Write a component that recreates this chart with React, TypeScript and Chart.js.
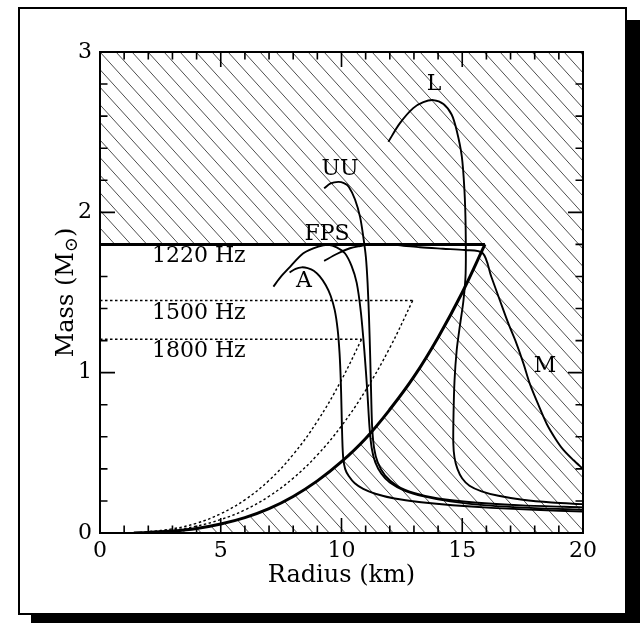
import React, { useEffect, useRef } from "react";
import { Chart, registerables } from "chart.js";

Chart.register(...registerables);

type Pt = [number, number];
const FONT = "'DejaVu Serif', 'Liberation Serif', serif";

// ---- axes ----
const xRange: Pt = [0, 20];
const yRange: Pt = [0, 3];
const xMajorTicks = [0, 5, 10, 15, 20];
const xMinorTicks = [1, 2, 3, 4, 6, 7, 8, 9, 11, 12, 13, 14, 16, 17, 18, 19];
const yMajorTicks = [0, 1, 2, 3];
const yMinorTicks = [0.2, 0.4, 0.6, 0.8, 1.2, 1.4, 1.6, 1.8, 2.2, 2.4, 2.6, 2.8];
const xTitle = "Radius (km)";
const yTitleMain = "Mass (M";
const yTitleSub = "\u2299";
const yTitleEnd = ")";

// ---- spin-frequency limits (radius km, mass Msun) ----
const hz1220Line: Pt[] = [[0, 1.8], [15.94, 1.8]];
const hz1220Curve: Pt[] = [
  [15.94, 1.8], [15, 1.5], [14, 1.22], [13, 0.975], [12, 0.77], [11, 0.59],
  [10, 0.445], [9, 0.325], [8, 0.228], [7, 0.152], [6, 0.096], [5, 0.056],
  [4, 0.028], [3, 0.012], [2, 0.0035], [1.4, 0],
];
const hz1500Line: Pt[] = [[0, 1.45], [12.95, 1.45]];
const hz1500Curve: Pt[] = [
  [12.95, 1.45], [12, 1.155], [11, 0.89], [10, 0.668], [9, 0.487], [8, 0.342],
  [7, 0.229], [6, 0.144], [5, 0.084], [4, 0.043], [3, 0.018], [2, 0.005], [1.4, 0],
];
const hz1800Line: Pt[] = [[0, 1.208], [10.83, 1.208]];
const hz1800Curve: Pt[] = [
  [10.83, 1.208], [10, 0.955], [9, 0.697], [8, 0.49], [7, 0.328], [6, 0.207],
  [5, 0.12], [4, 0.061], [3, 0.026], [2, 0.008], [1.4, 0],
];

// ---- equations of state ----
const eosA: Pt[] = [
  [7.85, 1.625], [8.1, 1.648], [8.35, 1.657], [8.6, 1.652], [8.85, 1.636], [9.1, 1.6],
  [9.35, 1.545], [9.55, 1.48], [9.72, 1.39], [9.84, 1.27], [9.92, 1.12], [9.97, 0.95],
  [10.0, 0.78], [10.03, 0.6], [10.07, 0.47], [10.15, 0.4], [10.3, 0.355], [10.55, 0.31],
  [10.9, 0.275], [11.4, 0.245], [12.2, 0.215], [13.3, 0.192], [14.6, 0.173],
  [16.2, 0.157], [18, 0.145], [20, 0.133],
];
const eosFPS: Pt[] = [
  [7.18, 1.537], [7.5, 1.6], [7.87, 1.66], [8.42, 1.745], [9.04, 1.786], [9.45, 1.797],
  [9.8, 1.782], [10.14, 1.745], [10.42, 1.665], [10.63, 1.56], [10.8, 1.38], [10.95, 1.13],
  [11.07, 0.88], [11.16, 0.66], [11.25, 0.53], [11.4, 0.44], [11.65, 0.37], [12.0, 0.315],
  [12.6, 0.265], [13.4, 0.228], [14.5, 0.197], [16, 0.172], [18, 0.155], [20, 0.145],
];
const eosUU: Pt[] = [
  [9.28, 2.15], [9.55, 2.18], [9.87, 2.19], [10.1, 2.182], [10.3, 2.16], [10.56, 2.08],
  [10.77, 1.97], [10.9, 1.85], [11.01, 1.72], [11.08, 1.56], [11.14, 1.34], [11.19, 1.09],
  [11.23, 0.85], [11.27, 0.66], [11.35, 0.53], [11.5, 0.44], [11.8, 0.36], [12.3, 0.295],
  [13, 0.25], [14, 0.215], [15.5, 0.19], [17.5, 0.172], [20, 0.16],
];
const eosL: Pt[] = [
  [11.94, 2.44], [12.42, 2.556], [12.97, 2.65], [13.39, 2.687], [13.8, 2.7], [14.22, 2.676],
  [14.56, 2.61], [14.77, 2.51], [14.98, 2.35], [15.09, 2.14], [15.14, 1.91], [15.14, 1.62],
  [15.05, 1.45], [14.9, 1.29], [14.77, 1.14], [14.68, 0.95], [14.64, 0.75], [14.63, 0.56],
  [14.68, 0.47], [14.8, 0.4], [15.0, 0.34], [15.3, 0.295], [15.8, 0.26], [16.5, 0.232],
  [17.5, 0.207], [18.7, 0.19], [20, 0.18],
];
const eosM: Pt[] = [
  [9.28, 1.697], [9.8, 1.74], [10.35, 1.776], [10.77, 1.79], [11.18, 1.8], [11.87, 1.8],
  [12.56, 1.792], [13.25, 1.782], [14.2, 1.773], [15.11, 1.765], [15.85, 1.745], [16.2, 1.6],
  [16.56, 1.45], [16.9, 1.31], [17.25, 1.18], [17.55, 1.05], [17.8, 0.93], [18.15, 0.8],
  [18.5, 0.68], [18.85, 0.59], [19.18, 0.52], [19.6, 0.455], [20, 0.4],
];

// ---- text annotations (data coordinates) ----
const freqLabels = [
  { text: "1220 Hz", r: 2.15, m: 1.724 },
  { text: "1500 Hz", r: 2.15, m: 1.372 },
  { text: "1800 Hz", r: 2.15, m: 1.132 },
];
const eosLabels = [
  { text: "A", r: 8.45, m: 1.572 },
  { text: "FPS", r: 9.4, m: 1.865 },
  { text: "UU", r: 9.94, m: 2.268 },
  { text: "L", r: 13.83, m: 2.8 },
  { text: "M", r: 18.43, m: 1.039 },
];

const toXY = (pts: Pt[]) => pts.map(([r, m]) => ({ x: r, y: m }));

const line = (pts: Pt[], width: number, tension: number, dash: number[] = []) => ({
  data: toXY(pts),
  showLine: true,
  pointRadius: 0,
  borderColor: "#000",
  backgroundColor: "#000",
  borderWidth: width,
  borderDash: dash,
  tension,
  fill: false,
});

const hatchPlugin = {
  id: "hatch",
  beforeDatasetsDraw(chart: any) {
    const { ctx, chartArea: a, scales } = chart;
    const sx = scales.x, sy = scales.y;
    ctx.save();
    ctx.beginPath();
    ctx.rect(a.left, a.top, a.right - a.left, a.bottom - a.top);
    const poly: Pt[] = [...hz1220Line, ...hz1220Curve.slice(1), [xRange[0], yRange[0]]];
    poly.forEach(([r, m], i) => {
      const px = sx.getPixelForValue(r), py = sy.getPixelForValue(m);
      if (i === 0) ctx.moveTo(px, py); else ctx.lineTo(px, py);
    });
    ctx.closePath();
    ctx.clip("evenodd");
    ctx.strokeStyle = "#3a3a3a";
    ctx.lineWidth = 0.9;
    const slope = 1.1;
    const gap = 16;
    const H = a.bottom - a.top;
    ctx.beginPath();
    for (let x0 = a.left - Math.ceil(H / slope / gap) * gap; x0 < a.right + gap; x0 += gap) {
      ctx.moveTo(x0, a.top);
      ctx.lineTo(x0 + H / slope, a.bottom);
    }
    ctx.stroke();
    ctx.restore();
  },
};

const framePlugin = {
  id: "frame",
  afterDatasetsDraw(chart: any) {
    const { ctx, chartArea: a, scales } = chart;
    const sx = scales.x, sy = scales.y;
    ctx.save();
    ctx.strokeStyle = "#000";
    ctx.lineWidth = 1.6;
    ctx.beginPath();
    const tickX = (v: number, len: number) => {
      const px = sx.getPixelForValue(v);
      ctx.moveTo(px, a.bottom); ctx.lineTo(px, a.bottom - len);
      ctx.moveTo(px, a.top); ctx.lineTo(px, a.top + len);
    };
    const tickY = (v: number, len: number) => {
      const py = sy.getPixelForValue(v);
      ctx.moveTo(a.left, py); ctx.lineTo(a.left + len, py);
      ctx.moveTo(a.right, py); ctx.lineTo(a.right - len, py);
    };
    xMajorTicks.forEach((v) => tickX(v, 15));
    xMinorTicks.forEach((v) => tickX(v, 7.5));
    yMajorTicks.forEach((v) => tickY(v, 15));
    yMinorTicks.forEach((v) => tickY(v, 7.5));
    ctx.stroke();
    ctx.lineWidth = 2;
    ctx.strokeRect(a.left, a.top, a.right - a.left, a.bottom - a.top);

    // annotations
    ctx.fillStyle = "#000";
    ctx.font = `22px ${FONT}`;
    ctx.textBaseline = "middle";
    ctx.textAlign = "left";
    freqLabels.forEach((l) => ctx.fillText(l.text, sx.getPixelForValue(l.r), sy.getPixelForValue(l.m)));
    ctx.textAlign = "center";
    eosLabels.forEach((l) => ctx.fillText(l.text, sx.getPixelForValue(l.r), sy.getPixelForValue(l.m)));

    // axis titles
    ctx.font = `24px ${FONT}`;
    ctx.textAlign = "center";
    ctx.textBaseline = "middle";
    ctx.fillText(xTitle, (a.left + a.right) / 2, 576);

    const cy = (a.top + a.bottom) / 2;
    ctx.translate(73, cy);
    ctx.rotate(-Math.PI / 2);
    ctx.textAlign = "left";
    ctx.textBaseline = "alphabetic";
    ctx.font = `24px ${FONT}`;
    const w1 = ctx.measureText(yTitleMain).width;
    const w3 = ctx.measureText(yTitleEnd).width;
    ctx.font = `18px ${FONT}`;
    const w2 = ctx.measureText(yTitleSub).width;
    const start = -(w1 + w2 + w3) / 2;
    ctx.font = `24px ${FONT}`;
    ctx.fillText(yTitleMain, start, 0);
    ctx.font = `18px ${FONT}`;
    ctx.fillText(yTitleSub, start + w1, 4);
    ctx.font = `24px ${FONT}`;
    ctx.fillText(yTitleEnd, start + w1 + w2, 0);
    ctx.restore();
  },
};

export default function App() {
  const ref = useRef<HTMLCanvasElement | null>(null);

  useEffect(() => {
    if (!ref.current) return;
    const chart = new Chart(ref.current, {
      type: "scatter",
      data: {
        datasets: [
          line(hz1220Line, 3, 0),
          line(hz1220Curve, 3, 0.4),
          line(hz1500Line, 1.4, 0, [2.5, 2.5]),
          line(hz1500Curve, 1.4, 0.4, [2.5, 2.5]),
          line(hz1800Line, 1.4, 0, [2.5, 2.5]),
          line(hz1800Curve, 1.4, 0.4, [2.5, 2.5]),
          line(eosA, 1.9, 0.3),
          line(eosFPS, 1.9, 0.3),
          line(eosUU, 1.9, 0.3),
          line(eosL, 1.9, 0.3),
          line(eosM, 1.9, 0.3),
        ] as any,
      },
      options: {
        animation: false,
        responsive: false,
        layout: { padding: { left: 40, top: 52, right: 57, bottom: 30 } },
        plugins: { legend: { display: false }, tooltip: { enabled: false } },
        scales: {
          x: {
            type: "linear",
            min: xRange[0],
            max: xRange[1],
            grid: { display: false, drawTicks: false },
            border: { display: false },
            ticks: {
              stepSize: 5,
              color: "#000",
              padding: 5,
              maxRotation: 0,
              autoSkip: false,
              font: { family: FONT, size: 22 },
            },
            afterFit: (s: any) => { s.height = 60; },
          },
          y: {
            type: "linear",
            min: yRange[0],
            max: yRange[1],
            grid: { display: false, drawTicks: false },
            border: { display: false },
            ticks: {
              stepSize: 1,
              color: "#000",
              padding: 8,
              autoSkip: false,
              font: { family: FONT, size: 22 },
            },
            afterFit: (s: any) => { s.width = 60; },
          },
        },
      } as any,
      plugins: [hatchPlugin, framePlugin],
    });
    return () => chart.destroy();
  }, []);

  return (
    <div style={{ position: "absolute", left: 0, top: 0, width: 640, height: 623, background: "#fff", overflow: "hidden" }}>
      <div style={{ position: "absolute", left: 31, top: 20, width: 609, height: 603, background: "#000" }} />
      <div
        style={{
          position: "absolute",
          left: 18,
          top: 7,
          width: 609,
          height: 608,
          boxSizing: "border-box",
          border: "2px solid #000",
          background: "#fff",
        }}
      />
      <canvas ref={ref} width={640} height={623} style={{ position: "absolute", left: 0, top: 0, width: 640, height: 623 }} />
    </div>
  );
}
